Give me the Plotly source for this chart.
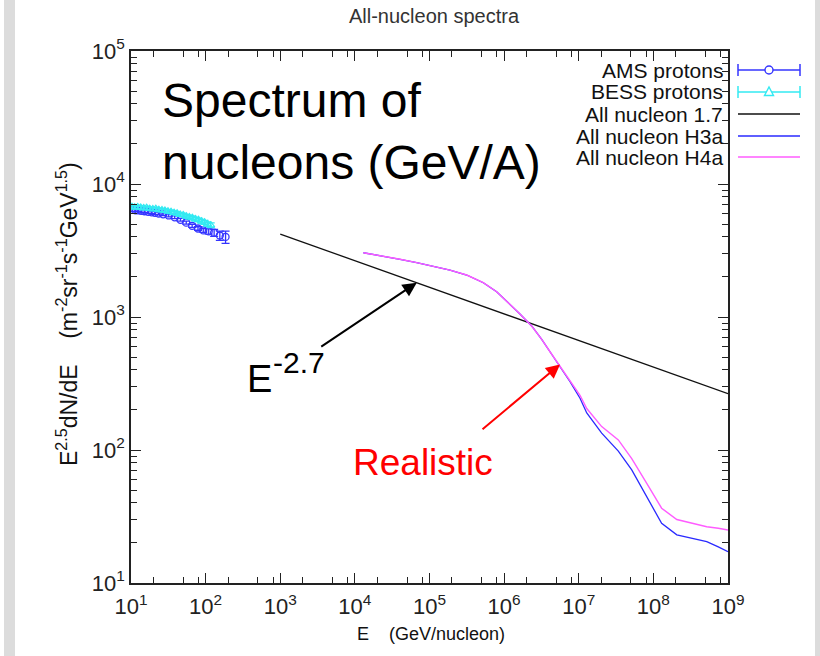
import numpy as np
import plotly.graph_objects as go

# ---------------- data ----------------
ams_E = [10.5, 11.5, 12.5, 13.7, 15.2, 17.0, 19.0, 21.0, 23.5, 27.0, 32.0,
         38.5, 46.0, 55.0, 66.0, 79.0, 93.0, 110.0, 130.0, 155.0, 185.0]
ams_flux = [6380, 6350, 6330, 6290, 6240, 6180, 6120, 6060, 6000, 5920, 5800,
            5620, 5380, 5120, 4850, 4630, 4480, 4400, 4300, 4100, 4000]
ams_err = [150, 150, 150, 150, 150, 140, 140, 140, 140, 140, 140,
           130, 130, 130, 130, 140, 150, 200, 260, 330, 420]

bess_E = [10.3, 11.2, 12.3, 13.5, 14.8, 16.2, 17.8, 19.6, 21.5, 23.6, 26.0,
          28.5, 31.3, 34.4, 37.8, 41.5, 45.6, 50.1, 55.0, 60.4, 66.4, 72.9,
          80.1, 88.0, 96.6, 106.0, 117.0]
bess_flux = [6750, 6680, 6720, 6640, 6600, 6620, 6520, 6480, 6500, 6400, 6360,
             6300, 6220, 6180, 6080, 6020, 5900, 5850, 5720, 5640, 5560, 5450,
             5380, 5250, 5150, 5000, 4900]
bess_err = [180, 180, 180, 180, 170, 170, 170, 170, 170, 170, 170,
            160, 160, 160, 160, 160, 160, 160, 160, 160, 160, 160,
            160, 170, 180, 190, 200]

nuc17_E = [1e3, 1e9]
nuc17_flux = [4200, 265]

h_E = [1.30e4, 2.40e4, 4.03e4, 6.73e4, 1.125e5, 1.88e5, 3.15e5, 5.26e5,
       7.94e5, 1.20e6, 1.63e6, 2.34e6, 3.19e6, 4.12e6, 5.61e6, 7.64e6,
       1.04e7, 1.28e7, 2.03e7, 3.39e7, 5.13e7, 8.15e7, 1.29e8, 2.06e8,
       3.27e8, 5.19e8, 7.41e8, 1.0e9]
h3a_flux = [3041, 2877, 2717, 2561, 2417, 2254, 2068, 1811,
            1549, 1253, 1054, 856, 679, 548, 423, 326,
            245, 190, 134, 98, 70.8, 44.6, 28.1, 23.0,
            21.7, 20.5, 18.7, 17.2]
h4a_flux = [3041, 2877, 2717, 2561, 2417, 2254, 2068, 1811,
            1549, 1253, 1054, 856, 679, 548, 426, 332,
            258, 205, 150, 119, 86, 56.2, 36.5, 30.0,
            28.1, 26.5, 25.8, 25.0]

x_exps = [1, 2, 3, 4, 5, 6, 7, 8, 9]
y_exps = [1, 2, 3, 4, 5]
x_minor_mult = [2, 5, 8]
y_minor_mult = [2, 3, 4, 5, 6, 7, 8, 9]

legend_names = ["AMS protons", "BESS protons", "All nucleon 1.7",
                "All nucleon H3a", "All nucleon H4a"]

# ---------------- style ----------------
C_AMS = "#3434ff"
C_BESS = "#33eaf2"
C_BLACK = "#111111"
C_H3A = "#2a2aff"
C_H4A = "#ff5cff"
FONT = "Liberation Sans, Arial, sans-serif"
AX = "#222222"

W, H = 820, 656
ML, MR, MT, MB = 131, 92, 51, 73
PW, PH = W - ML - MR, H - MT - MB


def px(xp):
    return (xp - ML) / PW


def py(yp):
    return (H - MB - yp) / PH


fig = go.Figure()
fig.add_trace(go.Scatter(
    x=ams_E, y=ams_flux, mode="markers", name=legend_names[0],
    marker=dict(symbol="circle-open", size=7, color=C_AMS, line=dict(width=1.3)),
    error_y=dict(type="data", array=ams_err, color=C_AMS, thickness=1.3, width=4)))
fig.add_trace(go.Scatter(
    x=bess_E, y=bess_flux, mode="markers", name=legend_names[1],
    marker=dict(symbol="triangle-up-open", size=7, color=C_BESS, line=dict(width=1.3)),
    error_y=dict(type="data", array=bess_err, color=C_BESS, thickness=1.3, width=4)))
fig.add_trace(go.Scatter(x=nuc17_E, y=nuc17_flux, mode="lines", name=legend_names[2],
                         line=dict(color=C_BLACK, width=1.3)))
fig.add_trace(go.Scatter(x=h_E, y=h3a_flux, mode="lines", name=legend_names[3],
                         line=dict(color=C_H3A, width=1.3)))
fig.add_trace(go.Scatter(x=h_E, y=h4a_flux, mode="lines", name=legend_names[4],
                         line=dict(color=C_H4A, width=1.4)))

x_minor = [m * 10 ** e for e in x_exps[:-1] for m in x_minor_mult]
y_minor = [m * 10 ** e for e in y_exps[:-1] for m in y_minor_mult]

axis_common = dict(type="log", showgrid=False, zeroline=False, showline=True,
                   linecolor=AX, linewidth=1.5, mirror="ticks", ticks="inside",
                   ticklen=10, tickwidth=1.2, tickcolor=AX,
                   tickfont=dict(family=FONT, size=22, color="#222"))
fig.update_xaxes(**axis_common, range=[1, 9], ticklabelstandoff=3,
                 tickmode="array", tickvals=[10 ** e for e in x_exps],
                 ticktext=[f"10<sup>{e}</sup>" for e in x_exps],
                 minor=dict(tickmode="array", tickvals=x_minor, ticks="inside",
                            ticklen=6, tickwidth=1.1, tickcolor=AX, showgrid=False))
fig.update_yaxes(**axis_common, range=[1, 5],
                 tickmode="array", tickvals=[10 ** e for e in y_exps],
                 ticktext=[f"10<sup>{e}</sup>" for e in y_exps],
                 minor=dict(tickmode="array", tickvals=y_minor, ticks="inside",
                            ticklen=6, tickwidth=1.1, tickcolor=AX, showgrid=False))

shapes = []
# grey page strips
shapes.append(dict(type="rect", xref="paper", yref="paper", layer="below",
                   x0=px(4), x1=px(15), y0=py(H), y1=py(0),
                   fillcolor="#dcdcdc", line=dict(width=0)))
shapes.append(dict(type="rect", xref="paper", yref="paper", layer="below",
                   x0=px(815), x1=px(W), y0=py(H), y1=py(0),
                   fillcolor="#dcdcdc", line=dict(width=0)))

annotations = []
# manual legend (text left, sample right)
row_y = [70, 92, 114, 136, 157]
leg_colors = [C_AMS, C_BESS, C_BLACK, C_H3A, C_H4A]
lx0, lx1, lxm = 738, 800, 769
for i, name in enumerate(legend_names):
    yy = row_y[i]
    annotations.append(dict(xref="paper", yref="paper", x=px(725), y=py(yy),
                            xanchor="right", yanchor="middle", showarrow=False,
                            text=name, font=dict(family=FONT, size=21, color="#111")))
    shapes.append(dict(type="line", xref="paper", yref="paper",
                       x0=px(lx0), x1=px(lx1), y0=py(yy), y1=py(yy),
                       line=dict(color=leg_colors[i], width=1.5 if i < 3 else 1.6)))
    if i < 2:
        for cx in (lx0, lx1):
            shapes.append(dict(type="line", xref="paper", yref="paper",
                               x0=px(cx), x1=px(cx), y0=py(yy - 6), y1=py(yy + 6),
                               line=dict(color=leg_colors[i], width=1.5)))
    if i == 0:
        shapes.append(dict(type="circle", xref="paper", yref="paper",
                           x0=px(lxm - 4), x1=px(lxm + 4), y0=py(yy + 4), y1=py(yy - 4),
                           fillcolor="white", line=dict(color=C_AMS, width=1.4)))
    if i == 1:
        shapes.append(dict(type="path", xref="paper", yref="paper",
                           path=f"M {px(lxm-4.5)},{py(yy+3.5)} L {px(lxm+4.5)},{py(yy+3.5)} "
                                f"L {px(lxm)},{py(yy-5)} Z",
                           fillcolor="white", line=dict(color=C_BESS, width=1.4)))

# big label
annotations.append(dict(xref="paper", yref="paper", x=px(160), y=py(72),
                        xanchor="left", yanchor="top", align="left", showarrow=False,
                        text="Spectrum of<br>nucleons (GeV/A)",
                        font=dict(family=FONT, size=48, color="#000")))
# E^-2.7 label and arrow
annotations.append(dict(xref="paper", yref="paper", x=px(245), y=py(402),
                        xanchor="left", yanchor="bottom", showarrow=False,
                        text="E", font=dict(family=FONT, size=38, color="#000")))
annotations.append(dict(xref="paper", yref="paper", x=px(271), y=py(362),
                        xanchor="left", yanchor="middle", showarrow=False,
                        text="-2.7", font=dict(family=FONT, size=30, color="#000")))
annotations.append(dict(xref="x", yref="y", x=np.log10(6.75e4), y=np.log10(1812),
                        ax=-97, ay=65, axref="pixel", ayref="pixel", text="",
                        showarrow=True, arrowhead=2, arrowsize=1.4, arrowwidth=2,
                        arrowcolor="#000", standoff=0))
# Realistic label and arrow
annotations.append(dict(xref="paper", yref="paper", x=px(351), y=py(485),
                        xanchor="left", yanchor="bottom", showarrow=False,
                        text="Realistic",
                        font=dict(family=FONT, size=37, color="#ff0000")))
annotations.append(dict(xref="x", yref="y", x=np.log10(5.61e6), y=np.log10(440),
                        ax=-79, ay=66, axref="pixel", ayref="pixel", text="",
                        showarrow=True, arrowhead=2, arrowsize=1.4, arrowwidth=2,
                        arrowcolor="#ff0000", standoff=0))
# axis titles
annotations.append(dict(xref="paper", yref="paper", x=px(431), y=py(634),
                        xanchor="center", yanchor="middle", showarrow=False,
                        text="E\u00a0\u00a0\u00a0\u00a0(GeV/nucleon)",
                        font=dict(family=FONT, size=18, color="#111")))
annotations.append(dict(xref="paper", yref="paper", x=px(67), y=py(314),
                        xanchor="center", yanchor="middle", showarrow=False,
                        textangle=-90,
                        text="E<sup>2.5</sup>dN/dE\u00a0\u00a0\u00a0\u00a0(m<sup>-2</sup>sr<sup>-1</sup>"
                             "s<sup>-1</sup>GeV<sup>1.5</sup>)",
                        font=dict(family=FONT, size=23, color="#111")))

fig.update_layout(
    width=W, height=H, margin=dict(l=ML, r=MR, t=MT, b=MB, autoexpand=False),
    paper_bgcolor="white", plot_bgcolor="white", showlegend=False,
    title=dict(text="All-nucleon spectra", x=px(434), xref="paper", xanchor="center",
               y=1 - 16 / H, yref="container", yanchor="middle",
               font=dict(family=FONT, size=20, color="#333")),
    shapes=shapes, annotations=annotations,
)

fig.write_html("out.html")
